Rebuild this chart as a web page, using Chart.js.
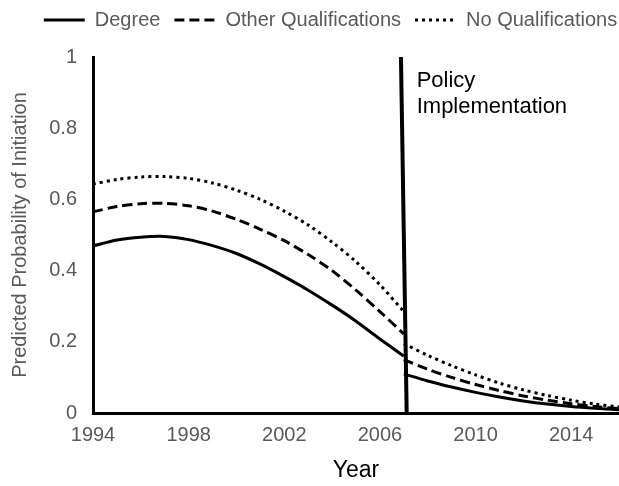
<!DOCTYPE html>
<html>
<head>
<meta charset="utf-8">
<script src="https://cdn.jsdelivr.net/npm/chart.js@4/dist/chart.umd.min.js"></script>
<style>
  body { margin: 0; background: #fff; }
</style>
</head>
<body>
<canvas id="chart" width="619" height="486"></canvas>
<script>
// Years before / after the policy (2007 appears on both sides of the break)
const preYears = [1994,1995,1996,1997,1998,1999,2000,2001,2002,2003,2004,2005,2006,2007];
const postYears = [2007,2008,2009,2010,2011,2012,2013,2014,2015,2016];

const degreePre = [0.469,0.486,0.494,0.496,0.487,0.470,0.448,0.418,0.383,0.345,0.303,0.258,0.208,0.160];
const degreePost = [0.110,0.090,0.073,0.058,0.045,0.034,0.025,0.018,0.013,0.009];
const otherPre = [0.565,0.580,0.588,0.589,0.582,0.567,0.544,0.516,0.484,0.445,0.400,0.345,0.285,0.222];
const otherPost = [0.150,0.123,0.100,0.080,0.063,0.048,0.036,0.026,0.018,0.012];
const noQualPre = [0.643,0.656,0.663,0.664,0.659,0.646,0.626,0.600,0.567,0.528,0.480,0.425,0.360,0.285];
const noQualPost = [0.195,0.162,0.133,0.107,0.084,0.065,0.049,0.036,0.025,0.017];

// policy line (slightly slanted in the original)
const policyX = [2006.88, 2007.12];
const policyY = [1, 0];
const policyLabel = ['Policy', 'Implementation'];

const xTicks = [1994,1998,2002,2006,2010,2014];

// join pre and post with a null point so the line breaks at the policy
const toPoints = (pre, post) => {
  const pts = preYears.map((yr, i) => ({x: yr, y: pre[i]}));
  pts.push({x: 2007, y: null});
  postYears.forEach((yr, i) => pts.push({x: yr, y: post[i]}));
  return pts;
};

Chart.defaults.font.family = "'Liberation Sans', Arial, sans-serif";

const lineStyle = {
  borderColor: '#000',
  backgroundColor: '#000',
  borderWidth: 3,
  pointRadius: 0,
  pointStyle: 'line',
  tension: 0.3,
  spanGaps: false,
  fill: false
};

// make room under the legend and nudge it to where the original sits
const legendTweak = {
  id: 'legendTweak',
  beforeInit(chart) {
    const origFit = chart.legend.fit;
    chart.legend.fit = function() {
      origFit.bind(chart.legend)();
      this.height += 13;
    };
  },
  afterLayout(chart) {
    const lg = chart.legend;
    lg.left += 21;
    lg.right += 21;
    lg.top -= 4;
    lg.bottom -= 4;
  }
};

const policyText = {
  id: 'policyText',
  afterDatasetsDraw(chart) {
    const {ctx, scales} = chart;
    const x = scales.x.getPixelForValue(policyX[1]) + 10;
    const top = scales.y.getPixelForValue(policyY[0]);
    ctx.save();
    ctx.fillStyle = '#000';
    ctx.font = "22px 'Liberation Sans', Arial, sans-serif";
    ctx.textAlign = 'left';
    ctx.textBaseline = 'alphabetic';
    ctx.fillText(policyLabel[0], x, top + 30);
    ctx.fillText(policyLabel[1], x, top + 56);
    ctx.restore();
  }
};

new Chart(document.getElementById('chart'), {
  type: 'line',
  data: {
    datasets: [
      Object.assign({label: 'Degree', data: toPoints(degreePre, degreePost)}, lineStyle),
      Object.assign({label: 'Other Qualifications', data: toPoints(otherPre, otherPost), borderDash: [10, 5]}, lineStyle),
      Object.assign({label: 'No Qualifications', data: toPoints(noQualPre, noQualPost), borderDash: [3, 4]}, lineStyle),
      {
        label: 'policy',
        data: policyX.map((v, i) => ({x: v, y: policyY[i]})),
        borderColor: '#000',
        borderWidth: 4,
        pointRadius: 0,
        tension: 0
      }
    ]
  },
  options: {
    responsive: false,
    animation: false,
    layout: { padding: 0 },
    plugins: {
      legend: {
        position: 'top',
        labels: {
          usePointStyle: true,
          pointStyleWidth: 41,
          color: '#595959',
          font: { size: 20 },
          padding: 14,
          generateLabels: (chart) => {
            const items = Chart.defaults.plugins.legend.labels.generateLabels(chart);
            return items
              .filter(it => it.text !== 'policy')
              .map(it => {
                const ds = chart.data.datasets[it.datasetIndex];
                it.lineDash = ds.borderDash || [];
                it.lineWidth = 3;
                it.strokeStyle = '#000';
                it.pointStyle = 'line';
                return it;
              });
          }
        }
      },
      tooltip: { enabled: false }
    },
    scales: {
      x: {
        type: 'linear',
        min: 1994,
        max: 2016,
        afterBuildTicks: (scale) => { scale.ticks = xTicks.map(v => ({value: v})); },
        afterFit: (scale) => { scale.height = 73; },
        grid: { display: false, drawTicks: false },
        border: { color: '#000', width: 3 },
        ticks: {
          color: '#595959',
          font: { size: 20 },
          padding: 10,
          maxRotation: 0,
          callback: (v) => String(v)
        },
        title: {
          display: true,
          text: 'Year',
          color: '#000',
          font: { size: 23 },
          padding: { top: 0, bottom: 2 }
        }
      },
      y: {
        min: 0,
        max: 1,
        afterFit: (scale) => { scale.width = 93; },
        grid: { display: false, drawTicks: false },
        border: { color: '#000', width: 3 },
        ticks: {
          stepSize: 0.2,
          color: '#595959',
          font: { size: 20 },
          padding: 16,
          callback: (v) => String(Number(v.toFixed(1)))
        },
        title: {
          display: true,
          text: 'Predicted Probability of Initiation',
          color: '#595959',
          font: { size: 20 },
          padding: { top: 8, bottom: 0 }
        }
      }
    }
  },
  plugins: [legendTweak, policyText]
});
</script>
</body>
</html>
